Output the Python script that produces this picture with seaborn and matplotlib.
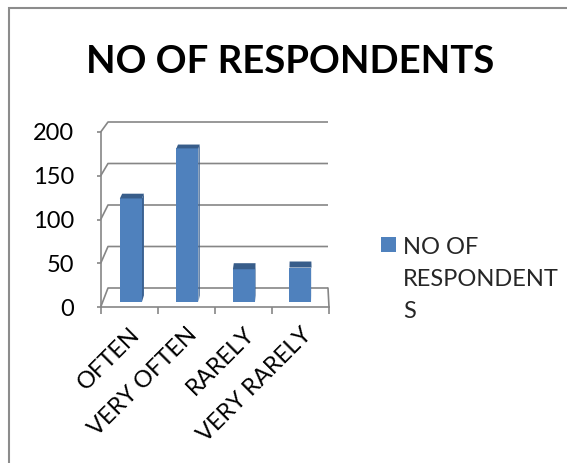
import matplotlib
matplotlib.use("Agg")
import matplotlib.pyplot as plt
from matplotlib.patches import Patch, Polygon, Rectangle
from matplotlib.offsetbox import HPacker
import seaborn as sns
import pandas as pd

# Survey data
categories = ["OFTEN", "VERY OFTEN", "RARELY", "VERY RARELY"]
respondents = [120, 178, 38, 40]
y_ticks = [0, 50, 100, 150, 200]
title = "NO OF RESPONDENTS"
legend_label = "NO OF\nRESPONDENT\nS"

BLUE = "#4F81BD"
TOP = "#385D8A"
SIDE = "#3A6191"
GRID = "#868686"

sns.set_theme(style="white")
plt.rcParams["font.family"] = ["Lato", "DejaVu Sans"]

W, H = 567, 463
fig = plt.figure(figsize=(W / 100, H / 100), dpi=100)
fig.patch.set_facecolor("white")

# Front plane of the 3-D box in pixels
X0, X1 = 100.7, 329.0          # front x-axis span
Y0, YTOP = 307.0, 132.0        # front y for 0 and 200
XB0, XB1 = 108.0, 328.0        # back wall x span
YB0, SY_B = 288.0, 0.83        # back wall: y pixel = YB0 - SY_B * v
SX_F = (X1 - X0) / 4
SY_F = (Y0 - YTOP) / 200
SX_B = (XB1 - XB0) / 4

ax = fig.add_axes([X0 / W, (H - Y0) / H, (X1 - X0) / W, (Y0 - YTOP) / H])
ax.set_facecolor("none")


def proj(x, v, d):
    """Map (category x, value v, depth d in 0..1) to front-plane data coords."""
    pxf = X0 + (x + 0.5) * SX_F
    pxb = XB0 + (x + 0.5) * SX_B
    pyf = Y0 - SY_F * v
    pyb = YB0 - SY_B * v
    px = pxf + d * (pxb - pxf)
    py = pyf + d * (pyb - pyf)
    return ((px - X0) / SX_F - 0.5, (Y0 - py) / SY_F)


# Walls and floor: diagonal from front axis, then along the back wall
for v in y_ticks:
    a = proj(-0.5, v, 0)
    b = proj(-0.5, v, 1)
    c = proj(3.5, v, 1)
    ax.plot([a[0], b[0], c[0]], [a[1], b[1], c[1]], color=GRID, lw=1.2,
            clip_on=False, zorder=1, solid_capstyle="butt")
a = proj(3.5, 0, 0)
b = proj(3.5, 0, 1)
ax.plot([a[0], b[0]], [a[1], b[1]], color=GRID, lw=1.2, clip_on=False, zorder=1)

df = pd.DataFrame({"category": categories, "value": respondents})
sns.barplot(data=df, x="category", y="value", color=BLUE, saturation=1,
            width=0.39, ax=ax, zorder=3)

# Extrude each bar into a 3-D column
D1, D2 = 0.26, 0.61
for p in ax.patches:
    x0, w, h = p.get_x(), p.get_width(), p.get_height()
    fl = proj(x0, 0, D1)
    fr = proj(x0 + w, h, D1)
    p.set_xy(fl)
    p.set_width(fr[0] - fl[0])
    p.set_height(fr[1] - fl[1])
    p.set_edgecolor("none")
    p.set_clip_on(False)
    side = [proj(x0 + w, 0, D1), proj(x0 + w, 0, D2),
            proj(x0 + w, h, D2), proj(x0 + w, h, D1)]
    top = [proj(x0, h, D1), proj(x0 + w, h, D1),
           proj(x0 + w, h, D2), proj(x0, h, D2)]
    ax.add_patch(Polygon(side, closed=True, facecolor=SIDE, edgecolor="none",
                         zorder=2.9, clip_on=False))
    ax.add_patch(Polygon(top, closed=True, facecolor=TOP, edgecolor="none",
                         zorder=3.1, clip_on=False))

ax.set_xlim(-0.5, 3.5)
ax.set_ylim(0, 200)
ax.set_xlabel("")
ax.set_ylabel("")

for s in ["top", "right"]:
    ax.spines[s].set_visible(False)
for s in ["left", "bottom"]:
    ax.spines[s].set_color(GRID)
    ax.spines[s].set_linewidth(1.2)
    ax.spines[s].set_zorder(4)

FS = 17
ax.set_yticks(y_ticks)
ax.set_yticklabels([str(t) for t in y_ticks], fontsize=FS, color="black")
ax.tick_params(axis="y", direction="out", length=3, width=1.2, color=GRID,
               pad=16, left=True)

ax.set_xticks(range(len(categories)))
ax.set_xticks([-0.5, 0.5, 1.5, 2.5, 3.5], minor=True)
ax.set_xticklabels(categories, fontsize=FS, color="black", rotation=45,
                   ha="right", rotation_mode="anchor")
ax.tick_params(axis="x", which="major", length=0, pad=12, bottom=True)
ax.tick_params(axis="x", which="minor", direction="out", length=5, width=1.2,
               color=GRID, bottom=True)
ax.grid(False)

leg = ax.legend(handles=[Patch(facecolor=BLUE, edgecolor="none")],
                labels=[legend_label], loc="upper left",
                bbox_to_anchor=(381 / W, 1 - 237 / H),
                bbox_transform=fig.transFigure, frameon=False, fontsize=FS,
                handlelength=0.63, handleheight=0.63, handletextpad=0.3,
                borderpad=0, borderaxespad=0)
for t in leg.get_texts():
    t.set_linespacing(1.65)
# keep the legend key level with the first line of the wrapped label
for box in leg.findobj(HPacker, include_self=False):
    box.align = "top"

fig.text(290 / W, 1 - 73 / H, title, ha="center", va="baseline",
         fontsize=27.5, fontweight="bold", color="black")

# Chart-area frame
fig.add_artist(Rectangle((9 / W, -0.05), 1.2, 1 - 8 / H + 0.05,
                         transform=fig.transFigure, fill=False,
                         edgecolor="#8C8C8C", lw=1.5))

fig.savefig("out.png", dpi=100)
